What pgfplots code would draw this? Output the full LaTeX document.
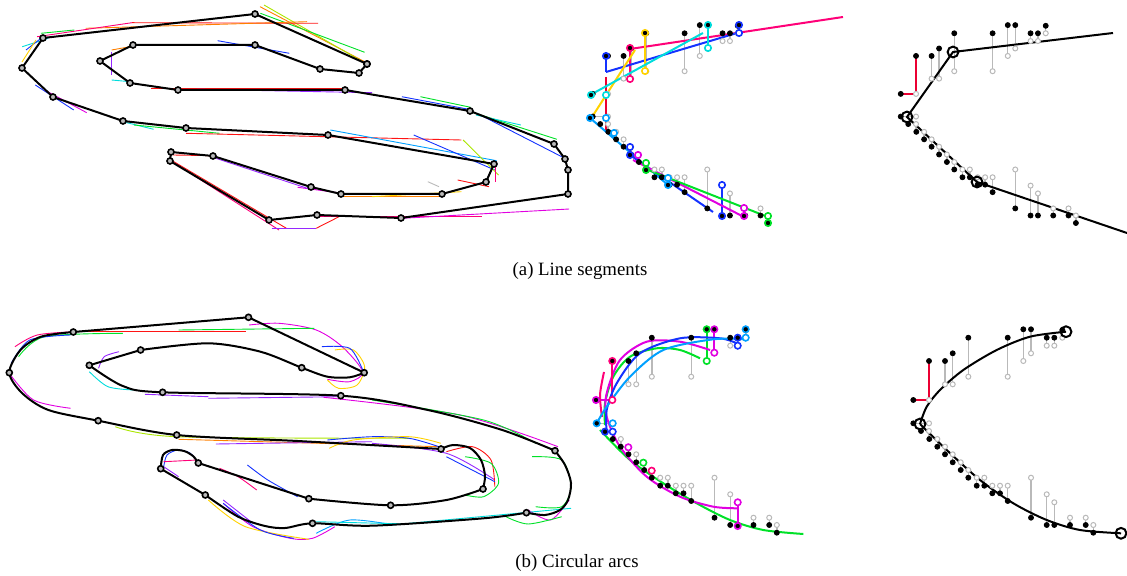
\documentclass[border=0pt]{standalone}
\usepackage{pgfplots}
\pgfplotsset{compat=1.18}
\usepackage{pgfplotstable}
\usepackage{fontspec}
\setmainfont{Liberation Serif}

\definecolor{corange}{RGB}{255,128,0}
\definecolor{cyg}{RGB}{170,230,0}
\definecolor{cgreen}{RGB}{0,225,40}
\definecolor{cred}{RGB}{255,20,20}
\definecolor{cpink}{RGB}{255,0,120}
\definecolor{ccyan}{RGB}{0,220,220}
\definecolor{cblue}{RGB}{20,50,255}
\definecolor{cpurple}{RGB}{150,40,255}
\definecolor{cmag}{RGB}{225,0,225}
\definecolor{cyellow}{RGB}{255,210,0}
\definecolor{clblue}{RGB}{0,160,255}
\definecolor{cgray}{RGB}{185,185,185}
\definecolor{cdred}{RGB}{235,0,50}

% base point sets (frame of the lower right panel, pixel units)
\pgfplotstableread{
x y
913.3 400
929 361
945 361
952.7 353.3
968.3 337.7
1007.7 337.7
1023.3 329.3
1031 329.3
1046.7 337.7
1054.3 337.7
1062.3 330
913.3 423.3
921 431
929.3 439
937.3 446.7
945 454.3
952.7 462.3
960.7 470
968.3 477.7
976.7 485.7
984.3 485.7
992.3 493.3
1000 493.3
1007.7 501
1031 517.7
1046.7 525
1054.3 525
1070 525
1085.7 525
1093.3 532.7
}\blackpts

\pgfplotstableread{
x y
929 400
945 384.3
952.7 384.3
968.3 376.7
1007.7 376.7
1023.3 361
1031 353.3
1046.7 345.7
1054.3 345.7
1062.3 337.7
929 423.3
929 431
937.3 439
945 446.7
952.7 454.3
960.7 462.3
968.3 470
976.7 477.7
984.3 477.7
992.3 485.7
1000 485.7
1007.7 485.7
1031 477.7
1046.7 494.3
1054.3 502.3
1070 517.7
1085.7 517.7
1093.3 525
}\openpts

\pgfplotstableread{
x y
945 361
945 384.3
nan nan
952.7 353.3
952.7 384.3
nan nan
968.3 337.7
968.3 376.7
nan nan
1007.7 337.7
1007.7 376.7
nan nan
1023.3 329.3
1023.3 361
nan nan
1031 329.3
1031 353.3
nan nan
1046.7 337.7
1046.7 345.7
nan nan
1054.3 337.7
1054.3 345.7
nan nan
1062.3 330
1062.3 337.7
nan nan
913.3 423.3
929 423.3
nan nan
929 431
929 439
nan nan
937.3 439
937.3 446.7
nan nan
945 446.7
945 454.3
nan nan
952.7 454.3
952.7 462.3
nan nan
960.7 462.3
960.7 470
nan nan
968.3 470
968.3 477.7
nan nan
976.7 477.7
976.7 485.7
nan nan
984.3 477.7
984.3 485.7
nan nan
992.3 485.7
992.3 493.3
nan nan
1000 485.7
1000 493.3
nan nan
1007.7 485.7
1007.7 501
nan nan
1031 477.7
1031 517.7
nan nan
1046.7 494.3
1046.7 525
nan nan
1054.3 502.3
1054.3 525
nan nan
1070 517.7
1070 525
nan nan
1085.7 517.7
1085.7 525
nan nan
1093.3 525
1093.3 532.7
}\graypairs

\pgfplotstableread{
x y
929 361
929 400
913.3 400
}\redpts

\newcommand{\basepanel}[3]{%
 \addplot[cgray, line width=0.7pt, no marks, unbounded coords=jump] table[x expr={#1*\thisrow{x}#2}, y expr={#1*\thisrow{y}#3}] {\graypairs};
 \addplot[only marks, mark=*, mark size=1.25pt, mark options={draw=cgray, fill=white, line width=0.5pt}] table[x expr={#1*\thisrow{x}#2}, y expr={#1*\thisrow{y}#3}] {\openpts};
 \addplot[only marks, mark=*, mark size=1.25pt, mark options={draw=black, fill=black}] table[x expr={#1*\thisrow{x}#2}, y expr={#1*\thisrow{y}#3}] {\blackpts};
}
\newcommand{\redpanel}[3]{%
 \addplot[cdred, line width=0.8pt, no marks] table[x expr={#1*\thisrow{x}#2}, y expr={#1*\thisrow{y}#3}] {\redpts};
}
\newcommand{\seg}[2]{\addplot[#1, line width=0.45pt, no marks] coordinates {#2};}
\newcommand{\arc}[2]{\addplot[#1, line width=0.45pt, no marks, smooth] coordinates {#2};}
\newcommand{\fit}[2]{\addplot[#1, line width=1pt, no marks] coordinates {#2};}
\newcommand{\fitc}[2]{\addplot[#1, line width=1pt, no marks, smooth] coordinates {#2};}
\newcommand{\cfill}[2]{\addplot[only marks, mark=*, mark size=1.6pt, mark options={draw=#1, fill=black, line width=0.8pt}] coordinates {#2};}
\newcommand{\copen}[2]{\addplot[only marks, mark=*, mark size=1.6pt, mark options={draw=#1, fill=white, line width=0.8pt}] coordinates {#2};}
\newcommand{\bk}[1]{\addplot[black, line width=1pt, no marks] coordinates {#1};}
\newcommand{\bks}[1]{\addplot[black, line width=1pt, no marks, smooth] coordinates {#1};}

\begin{document}
\begin{tikzpicture}
\begin{axis}[
  scale only axis, width=563.5pt, height=288pt,
  xmin=0, xmax=1127, ymin=0, ymax=576, y dir=reverse,
  hide axis, clip=true,
]
% ================= (a) left: line segments =================
\seg{corange}{(260,6.7) (364.6,61.7)}
\seg{cyg}{(264,5) (362.7,61.7)}
\seg{cgreen}{(260.4,13.3) (364.6,52.3)}
\seg{cred}{(132,22.7) (318,23.3)}
\seg{corange}{(85.6,28.3) (307,21.7)}
\seg{cpink}{(37.2,36.7) (132,22.7)}
\seg{cgreen}{(41,33.3) (74.4,30)}
\seg{ccyan}{(22.3,46.7) (48.4,38.3)}
\seg{cblue}{(26,50) (44,36)}
\seg{cyellow}{(22,62) (36,40)}
\seg{cpurple}{(111.6,51.7) (111.6,75)}
\seg{corange}{(111.6,50) (134,46)}
\seg{cblue}{(217.6,40.7) (289.4,53.3)}
\seg{ccyan}{(111.6,80) (130,81.7)}
\seg{cred}{(150.7,88.7) (346,88.7)}
\seg{cpurple}{(197,89.3) (372,92.7)}
\seg{cblue}{(401.8,96.7) (472.4,110)}
\seg{cgreen}{(420.4,96.7) (470.6,107.3)}
\seg{cgreen}{(470.6,111.7) (556.9,139.3)}
\seg{cblue}{(483.6,116.7) (561.7,156.7)}
\seg{ccyan}{(476,115) (520.8,125)}
\seg{cblue}{(35.3,85) (73.7,110)}
\seg{cmag}{(44.6,90) (86.7,112.7)}
\seg{ccyan}{(122.8,121.7) (153.6,129.3)}
\seg{cgreen}{(133.9,125) (219.5,133.3)}
\seg{cred}{(186,133.3) (461.3,140)}
\seg{clblue}{(330.3,130) (496.6,160.7)}
\seg{cblue}{(413.7,135) (494.8,170)}
\seg{cyg}{(463.1,140) (498.5,175)}
\seg{cpink}{(495.9,165) (495.9,181.7)}
\seg{cred}{(457.6,180) (489,186.7)}
\seg{cgray}{(427.8,181.7) (439,186.7)}
\seg{corange}{(342.2,196) (442.7,196)}
\seg{cyellow}{(372,196.7) (461.3,191.7)}
\seg{cmag}{(297.6,187.3) (342.2,193.3)}
\seg{cpurple}{(215.8,158.3) (312.5,190)}
\seg{cred}{(173,155) (213.9,155.7)}
\seg{cred}{(171,160) (286.4,228.3)}
\seg{cpink}{(174.8,163.3) (279,230)}
\seg{cpurple}{(271.6,228.3) (316.2,228.3)}
\seg{cred}{(316.2,228.3) (340.4,216)}
\seg{cpink}{(320,216.7) (481.7,216.7)}
\seg{cmag}{(401.8,218.3) (569.2,209)}
\addplot[black, line width=1pt, mark=*, mark size=1.5pt, mark options={fill=gray!55, draw=black, line width=0.8pt}] coordinates {
(367,64) (255,14) (43,38) (22,68) (53,97) (123,121) (186,128) (328,135) (494,164) (486,182) (442,194) (341,194) (311,187) (213,156) (171,152) (170,161) (269,220) (317,215) (401,218) (568,194) (568,170) (565,159) (554,144) (470,111) (345,90) (178,90) (130,83) (100,61) (133,45) (255,45) (320,69) (359,73) (367,64)};

% ================= (a) middle =================
\basepanel{0.973}{-295.9}{-295.3}
\fit{cblue}{(606,56) (606,72)}
\fit{cdred}{(606,77) (606,133)}
\fit{cpink}{(630,49) (843,17)}
\fit{cpink}{(630,48) (630,79)}
\fit{cblue}{(606,72) (737,33)}
\fit{cblue}{(739,25) (739,33)}
\fit{cyellow}{(645,33) (645,71)}
\fit{cyellow}{(592,117) (635,50)}
\fit{ccyan}{(708,25) (708,48)}
\fit{ccyan}{(592,94) (703,33)}
\fit{clblue}{(590,118) (668,185)}
\fit{cblue}{(630,155) (713,212)}
\fit{cblue}{(722,185) (722,216)}
\fit{cmag}{(633,160) (744,217)}
\fit{cmag}{(744,208) (744,216)}
\fit{cgreen}{(643,168) (768,217)}
\cfill{cblue}{(606,56) (739,25) (630,155) (722,216)}
\copen{cblue}{(739,33) (630,147) (722,185)}
\cfill{cpink}{(630,48)}
\copen{cpink}{(630,79)}
\cfill{cyellow}{(645,33)}
\copen{cyellow}{(645,71)}
\cfill{ccyan}{(708,25) (591,95)}
\copen{ccyan}{(708,48) (606,95)}
\cfill{clblue}{(590,118) (668,185)}
\copen{clblue}{(606,118) (614,133) (668,178)}
\copen{cmag}{(638,155) (744,208)}
\cfill{cmag}{(744,216)}
\copen{cgreen}{(646,163) (768,216)}
\cfill{cgreen}{(646,170) (768,223)}

% ================= (a) right =================
\basepanel{0.973}{+12.1}{-295.3}
\redpanel{0.973}{+12.1}{-295.3}
\addplot[black, line width=1pt, no marks] coordinates {(1113,33) (953,52) (907,117) (977,182) (1127,233)};
\addplot[only marks, mark=o, mark size=2.7pt, mark options={draw=black, line width=1pt}] coordinates {(953,52) (907,117) (977,182)};

% ================= (b) left: circular arcs =================
\arc{cmag}{(249.2,325) (279,323.3) (316.2,330) (342.2,346.7) (362.7,371.7) (349.7,381.7) (327.4,379.3)}
\arc{cyellow}{(334.8,350) (353.4,350) (364.6,366.7) (357.1,385) (338.5,388.3) (327.4,380)}
\arc{cblue}{(321.8,346.7) (349.7,348.3) (362.7,370)}
\arc{cgreen}{(178.6,330) (314.3,328.3)}
\arc{cred}{(74.4,331.7) (245.5,331.7)}
\arc{cpink}{(14.9,346.7) (37.2,335) (74.4,331.7)}
\arc{cgreen}{(18.6,356.7) (44.6,336.7) (122.8,333.3)}
\arc{cblue}{(11.2,363.3) (29.8,340) (70.7,335)}
\arc{cmag}{(9.3,373.3) (33.5,400) (70.7,408.3)}
\arc{cpurple}{(98.6,368.3) (104.2,356.7) (119,351.7)}
\arc{ccyan}{(89.3,371.7) (107.9,386.7) (133.9,390)}
\arc{cpurple}{(145,394.3) (208.3,396.7)}
\arc{cpurple}{(208.3,398.3) (342.2,396.7)}
\arc{cmag}{(323.6,397.3) (460,415) (558,446.7)}
\arc{cgreen}{(372,400) (483.6,420) (535.7,443.3)}
\arc{cyg}{(115.3,426.7) (176.7,436.7) (409.2,438.3)}
\arc{corange}{(178.6,439.3) (439,446.7)}
\arc{cpurple}{(215.8,444) (372,441.7)}
\arc{cblue}{(327.4,440) (372,436.7) (409.2,438.3) (439,446.7)}
\arc{cyellow}{(329.2,448.3) (353.4,440) (409.2,436.7) (440.8,443.3)}
\arc{cpurple}{(372,443.3) (446.4,453.3) (494.8,480)}
\arc{cred}{(446.4,451.7) (472.4,446.7) (491,460) (494.8,486.7)}
\arc{cgreen}{(465,456.7) (491,463.3) (498.5,483.3) (483.6,496.7) (465,495)}
\arc{cblue}{(446.4,456.7) (494.8,481.7)}
\arc{cgreen}{(532,456.7) (561.7,460) (571,486.7) (561.7,506.7) (535.7,506.7)}
\arc{cmag}{(528.2,510) (550.6,520) (569.2,500)}
\arc{cgreen}{(505.9,516.7) (528.2,524) (561.7,516.7)}
\arc{ccyan}{(409.2,523.3) (571,508.3)}
\arc{clblue}{(316.2,533.3) (349.7,520) (394.3,525)}
\arc{ccyan}{(316.2,521.7) (409.2,524)}
\arc{cmag}{(223.2,503.3) (253,526.7) (290.2,538.3) (312.5,538.3) (334.8,526.7)}
\arc{cyellow}{(208.3,500) (245.5,526.7) (308.8,539.3)}
\arc{cblue}{(223.2,503.3) (260.4,530) (293.9,538.3)}
\arc{cpurple}{(223.2,500) (253,523.3)}
\arc{cblue}{(247.4,465) (267.8,480) (297.6,496.7)}
\arc{cpink}{(219.5,468.3) (238.1,476.7) (256.7,490)}
\arc{cblue}{(163.7,466.7) (167,455) (178,450) (190,453) (197.2,461.7)}
\arc{cpink}{(163.7,461.7) (197.2,460)}
\arc{cpurple}{(163.7,466.7) (178.6,476.7)}
\bk{(364.2,372.7) (248.5,317.3) (73.3,332)}
\bks{(73.3,332) (40.9,336.7) (20.5,350) (9.3,372.7) (22.3,393.3) (48.4,410) (98.2,420.7) (176.7,435) (297.6,441) (441,449)}
\bks{(441,449) (453,445) (470,448) (481,460) (485,476) (483,489)}
\bks{(483,489) (446.4,500) (390.6,505.3) (308.8,498.7)}
\bk{(308.8,498.7) (198.3,463)}
\bks{(198.3,463) (193,456) (184,451) (172,450) (163,455) (160.7,468.7)}
\bk{(160.7,468.7) (205.3,495)}
\bks{(205.3,495) (238.1,516.7) (265,526) (285,528) (312.5,523.3) (372,525.7) (483.6,518.3) (526.4,512.7)}
\bks{(526.4,512.7) (545,515) (560,510) (568,500) (571,483) (565,465) (555,450.7)}
\bks{(555,450.7) (502.2,430) (427.8,410) (340.8,395.7) (162.6,392.3) (122.8,386) (89.3,365.3)}
\bk{(89.3,365.3) (140.6,350)}
\bks{(140.6,350) (208.3,343.3) (260.4,351.7) (301.7,367.7) (327.4,376.7) (349.7,377.3) (364.2,372.7)}
\addplot[only marks, mark=*, mark size=1.5pt, mark options={fill=gray!55, draw=black, line width=0.8pt}] coordinates {
(248.5,317.3) (73.3,332) (9.3,372.7) (98.2,420.7) (176.7,435) (441,449) (483,489) (390.6,505.3) (308.8,498.7) (198.3,463) (160.7,468.7) (205.3,495) (312.5,523.3) (526.4,512.7) (555,450.7) (340.8,395.7) (162.6,392.3) (89.3,365.3) (140.6,350) (301.7,367.7) (364.2,372.7)};

% ================= (b) middle =================
\basepanel{1}{-316.5}{+0}
\fit{cgreen}{(706.7,329.3) (706.7,361)}
\fitc{cgreen}{(700,358.3) (680,350) (656.7,348.3) (630,356.7) (613.3,376.7) (605,403.3) (605,425)}
\fitc{cgreen}{(600,430) (630,460) (663.3,483.3) (696.7,503.3) (730,520) (763.3,530) (803.3,534)}
\fit{cmag}{(714.3,329.3) (714.3,352.7)}
\fitc{cmag}{(710,350) (680,341.7) (646.7,341.7) (620,360) (606.7,393.3) (606.7,416.7) (620,446.7) (646.7,476.7) (680,496.7) (713.3,506.7) (737.7,508.3)}
\fit{cmag}{(737.7,502.3) (737.7,526)}
\fit{cpink}{(612.3,361) (612.3,400)}
\fit{cmag}{(596,400) (612.3,400)}
\fitc{cpink}{(604,372) (600,395) (602,417)}
\fitc{cblue}{(736.7,343.3) (720,338.3) (680,338.3) (640,353.3) (616.7,383.3) (606.7,410) (606.7,433.3)}
\fitc{clblue}{(745.7,339.3) (713.3,339.3) (663.3,350) (630,376.7) (606.7,406.7) (596.7,423.3)}
\cfill{cgreen}{(706.7,329.3)}
\copen{cgreen}{(706.7,361) (643.3,462.7)}
\cfill{cmag}{(714.3,329.3) (737.7,526) (596,400)}
\copen{cmag}{(714.3,352.7) (737.7,502.3) (628.3,447.3)}
\cfill{cpink}{(612.3,361)}
\copen{cpink}{(612.3,400) (651.7,470.7)}
\cfill{cblue}{(737.7,337.7) (605,431.7)}
\copen{cblue}{(737.7,345.7) (612.7,431.7)}
\cfill{clblue}{(745.7,329.3) (596.7,423.3)}
\copen{clblue}{(745.7,337.7) (612.7,423.3)}

% ================= (b) right =================
\basepanel{1}{+0}{+0}
\redpanel{1}{+0}{+0}
\addplot[black, line width=1pt, no marks, smooth] coordinates {(1066,331.7) (1030,336.7) (996.7,350) (963.3,370) (940,390) (926.7,406.7) (920,424)};
\addplot[black, line width=1pt, no marks, smooth] coordinates {(920,424) (946.7,450) (980,480) (1013.3,503.3) (1046.7,520) (1080,530) (1121,533.3)};
\addplot[only marks, mark=o, mark size=2.7pt, mark options={draw=black, line width=1pt}] coordinates {(1066,331.7) (920,424) (1121,533.3)};

% captions
\node[font=\fontsize{9.4}{11}\selectfont] at (axis cs:580,271) {(a) Line segments};
\node[font=\fontsize{9.4}{11}\selectfont] at (axis cs:577,563) {(b) Circular arcs};
\coordinate (SW) at (axis cs:0,576);
\coordinate (NE) at (axis cs:1127,0);
\end{axis}
\pgfresetboundingbox
\path (SW) rectangle (NE);
\end{tikzpicture}
\end{document}
